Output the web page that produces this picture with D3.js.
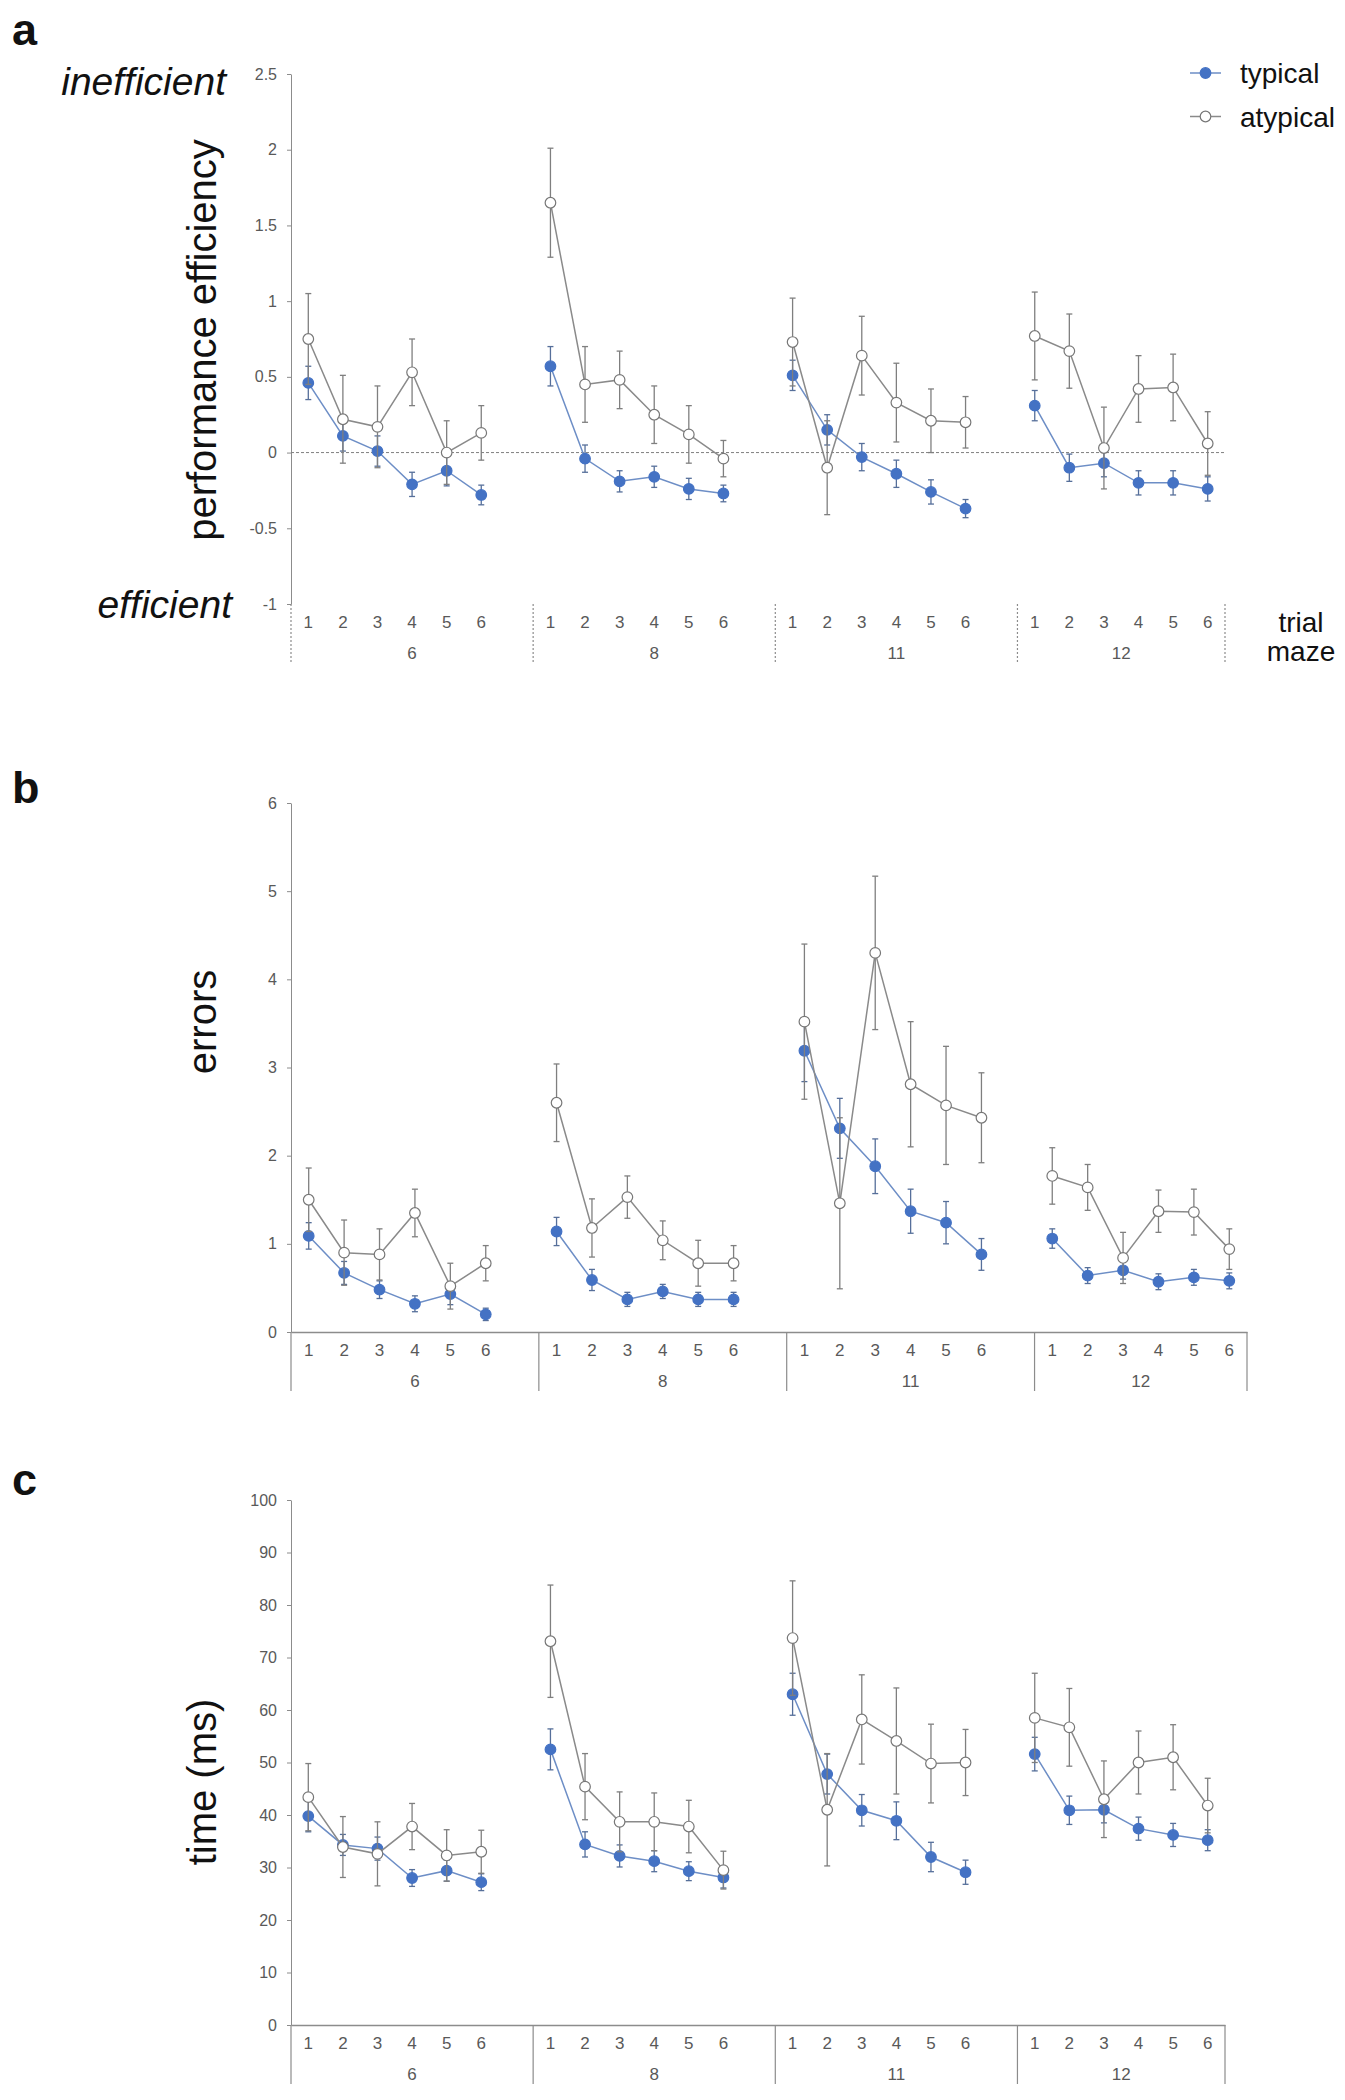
<!DOCTYPE html>
<html>
<head>
<meta charset="utf-8">
<script src="https://cdn.jsdelivr.net/npm/d3@7"></script>
<style>
  body { margin: 0; background: #fff; }
  svg text { font-family: "Liberation Sans", Arial, sans-serif; }
</style>
</head>
<body>
<div class="chart"></div>
<script>

/* DATA */

const mazes = ["6", "8", "11", "12"];
const trials = [1, 2, 3, 4, 5, 6];
const seriesNames = ["typical", "atypical"];

// a: performance efficiency (mean, error), maze by maze
const effTypical = [0.46, 0.11, 0.01, -0.21, -0.12, -0.28,
                    0.57, -0.04, -0.19, -0.16, -0.24, -0.27,
                    0.51, 0.15, -0.03, -0.14, -0.26, -0.37,
                    0.31, -0.10, -0.07, -0.20, -0.20, -0.24];
const effTypicalErr = [0.11, 0.10, 0.10, 0.08, 0.10, 0.065,
                       0.13, 0.09, 0.07, 0.07, 0.07, 0.055,
                       0.10, 0.10, 0.09, 0.09, 0.08, 0.06,
                       0.10, 0.09, 0.09, 0.08, 0.08, 0.08];
const effAtypical = [0.75, 0.22, 0.17, 0.53, 0.00, 0.13,
                     1.65, 0.45, 0.48, 0.25, 0.12, -0.04,
                     0.73, -0.10, 0.64, 0.33, 0.21, 0.20,
                     0.77, 0.67, 0.03, 0.42, 0.43, 0.06];
const effAtypicalErr = [0.30, 0.29, 0.27, 0.22, 0.21, 0.18,
                        0.36, 0.25, 0.19, 0.19, 0.19, 0.12,
                        0.29, 0.31, 0.26, 0.26, 0.21, 0.17,
                        0.29, 0.245, 0.27, 0.22, 0.22, 0.21];

// b: errors
const errTypical = [1.09, 0.67, 0.48, 0.32, 0.43, 0.20,
                    1.14, 0.59, 0.37, 0.46, 0.37, 0.37,
                    3.19, 2.31, 1.88, 1.37, 1.24, 0.88,
                    1.06, 0.64, 0.70, 0.57, 0.62, 0.58];
const errTypicalErr = [0.15, 0.13, 0.10, 0.09, 0.12, 0.07,
                       0.16, 0.12, 0.08, 0.08, 0.08, 0.08,
                       0.35, 0.34, 0.31, 0.25, 0.24, 0.18,
                       0.11, 0.09, 0.10, 0.09, 0.09, 0.09];
const errAtypical = [1.50, 0.90, 0.88, 1.35, 0.52, 0.78,
                     2.60, 1.18, 1.53, 1.04, 0.78, 0.78,
                     3.52, 1.46, 4.30, 2.81, 2.57, 2.43,
                     1.77, 1.64, 0.84, 1.37, 1.36, 0.94];
const errAtypicalErr = [0.36, 0.37, 0.29, 0.27, 0.26, 0.20,
                        0.44, 0.33, 0.24, 0.22, 0.26, 0.20,
                        0.88, 0.97, 0.87, 0.71, 0.67, 0.51,
                        0.32, 0.26, 0.29, 0.24, 0.26, 0.23];

// c: time (ms)
const timeTypical = [39.8, 34.3, 33.6, 28.0, 29.4, 27.2,
                     52.5, 34.4, 32.2, 31.2, 29.3, 28.1,
                     63.0, 47.8, 40.9, 38.9, 32.0, 29.1,
                     51.6, 40.9, 41.0, 37.4, 36.2, 35.2];
const timeTypicalErr = [3.0, 2.0, 2.2, 1.6, 2.0, 1.6,
                        3.9, 2.4, 2.1, 2.0, 1.8, 2.0,
                        4.0, 3.8, 3.0, 3.6, 2.8, 2.3,
                        3.2, 2.7, 2.5, 2.2, 2.2, 2.0];
const timeAtypical = [43.4, 33.9, 32.6, 37.8, 32.3, 33.0,
                      73.1, 45.4, 38.7, 38.7, 37.8, 29.5,
                      73.7, 41.0, 58.2, 54.1, 49.8, 50.0,
                      58.5, 56.7, 43.0, 50.0, 51.0, 41.8];
const timeAtypicalErr = [6.4, 5.8, 6.1, 4.4, 4.9, 4.1,
                         10.7, 6.3, 5.7, 5.5, 5.0, 3.6,
                         10.9, 10.7, 8.5, 10.1, 7.5, 6.3,
                         8.5, 7.4, 7.3, 6.0, 6.2, 5.2];

// y tick labels
const effTicks = [-1, -0.5, 0, 0.5, 1, 1.5, 2, 2.5];
const errTicks = [0, 1, 2, 3, 4, 5, 6];
const timeTicks = [0, 10, 20, 30, 40, 50, 60, 70, 80, 90, 100];


/* SETUP */

const svg = d3.select(".chart").append("svg")
    .attr("width", 1345)
    .attr("height", 2100);

const blue = "#4472c4";
const blueLine = "#6d8ec6";
const blueBar = "#566f9a";
const grey = "#7f7f7f";
const tickGrey = "#595959";

// category slots: 6 trials per maze and an empty slot between mazes
const slots = [];
mazes.forEach((m, i) => {
    trials.forEach(t => slots.push(m + "-" + t));
    if (i < mazes.length - 1) slots.push(m + "-gap");
});

function makeSeries(values, errs) {
    return values.map((v, i) => ({
        maze: mazes[Math.floor(i / trials.length)],
        trial: trials[i % trials.length],
        v: v,
        e: errs[i]
    }));
}

function drawPanel(p) {
    const g = svg.append("g");

    const xScale = d3.scaleBand()
        .domain(slots)
        .range([p.left, p.right]);

    const yScale = d3.scaleLinear()
        .domain(p.domain)
        .range([p.bottom, p.top]);

    const cx = d => xScale(d.maze + "-" + d.trial) + xScale.bandwidth() / 2;

    // y axis
    const yAxis = g.append("g")
        .attr("transform", `translate(${p.left},0)`)
        .call(d3.axisLeft(yScale)
            .tickValues(p.ticks)
            .tickSize(4)
            .tickSizeOuter(0)
            .tickPadding(10)
            .tickFormat(d => String(d)));
    yAxis.selectAll("path, line").attr("stroke", "#8c8c8c");
    yAxis.selectAll("text")
        .attr("fill", tickGrey)
        .attr("font-size", 16)
        .attr("font-family", "Liberation Sans, Arial, sans-serif");

    // x axis (trial numbers)
    const xAxis = g.append("g")
        .attr("transform", `translate(0,${p.bottom})`)
        .call(d3.axisBottom(xScale)
            .tickSize(0)
            .tickSizeOuter(0)
            .tickPadding(12)
            .tickFormat(k => k.endsWith("gap") ? "" : k.split("-")[1]));
    xAxis.select(".domain").attr("stroke", "#8c8c8c").attr("stroke-width", 1.3);
    if (p.dashed) xAxis.select(".domain").remove();
    xAxis.selectAll("text")
        .attr("fill", tickGrey)
        .attr("font-size", 17)
        .attr("font-family", "Liberation Sans, Arial, sans-serif");

    // dashed zero line
    if (p.dashed) {
        g.append("line")
            .attr("x1", p.left).attr("x2", p.right)
            .attr("y1", yScale(0)).attr("y2", yScale(0))
            .attr("stroke", "#7f7f7f")
            .attr("stroke-width", 1)
            .attr("stroke-dasharray", "3,2");
    }

    // maze separators and labels
    const bounds = mazes.map(m => xScale(m + "-1")).concat([p.right]);
    g.selectAll(".sep").data(bounds).enter().append("line")
        .attr("x1", d => d).attr("x2", d => d)
        .attr("y1", p.bottom).attr("y2", p.bottom + 59)
        .attr("stroke", "#8c8c8c")
        .attr("stroke-width", 1.2)
        .attr("stroke-dasharray", p.dashed ? "2,2" : null);

    g.selectAll(".maze").data(mazes).enter().append("text")
        .attr("x", (d, i) => (bounds[i] + bounds[i + 1]) / 2)
        .attr("y", p.bottom + 55)
        .attr("text-anchor", "middle")
        .attr("font-size", 17)
        .attr("fill", tickGrey)
        .text(d => d);

    // axis title
    g.append("text")
        .attr("transform", `translate(216,${p.titleY}) rotate(-90)`)
        .attr("text-anchor", "middle")
        .attr("font-size", 40)
        .attr("fill", "#111")
        .text(p.title);

    // panel letter
    g.append("text")
        .attr("x", 12)
        .attr("y", p.letterY)
        .attr("font-size", 45)
        .attr("font-weight", "bold")
        .attr("fill", "#111")
        .text(p.letter);

    const line = d3.line().x(cx).y(d => yScale(d.v));

    const series = [
        {data: makeSeries(p.typical, p.typicalErr), line: blueLine, bar: blueBar, fill: blue, stroke: blue},
        {data: makeSeries(p.atypical, p.atypicalErr), line: "#8a8a8a", bar: grey, fill: "#fff", stroke: "#777"}
    ];

    series.forEach(s => {
        // lines, broken between mazes
        mazes.forEach(m => {
            g.append("path")
                .datum(s.data.filter(d => d.maze === m))
                .attr("d", line)
                .attr("fill", "none")
                .attr("stroke", s.line)
                .attr("stroke-width", 1.5);
        });

        // error bars
        const bars = g.selectAll(null).data(s.data).enter().append("g")
            .attr("stroke", s.bar)
            .attr("stroke-width", 1.3);
        bars.append("line")
            .attr("x1", cx).attr("x2", cx)
            .attr("y1", d => yScale(d.v - d.e))
            .attr("y2", d => yScale(d.v + d.e));
        bars.append("line")
            .attr("x1", d => cx(d) - 3).attr("x2", d => cx(d) + 3)
            .attr("y1", d => yScale(d.v + d.e)).attr("y2", d => yScale(d.v + d.e));
        bars.append("line")
            .attr("x1", d => cx(d) - 3).attr("x2", d => cx(d) + 3)
            .attr("y1", d => yScale(d.v - d.e)).attr("y2", d => yScale(d.v - d.e));

        // markers
        g.selectAll(null).data(s.data).enter().append("circle")
            .attr("cx", cx)
            .attr("cy", d => yScale(d.v))
            .attr("r", 5.3)
            .attr("fill", s.fill)
            .attr("stroke", s.stroke)
            .attr("stroke-width", 1.2);
    });
}


/* PANELS */

drawPanel({
    letter: "a", letterY: 45, title: "performance efficiency", titleY: 340,
    left: 291, right: 1225, top: 74, bottom: 604, domain: [-1, 2.5], ticks: effTicks, dashed: true,
    typical: effTypical, typicalErr: effTypicalErr, atypical: effAtypical, atypicalErr: effAtypicalErr
});

drawPanel({
    letter: "b", letterY: 803, title: "errors", titleY: 1022,
    left: 291, right: 1247, top: 803, bottom: 1332, domain: [0, 6], ticks: errTicks, dashed: false,
    typical: errTypical, typicalErr: errTypicalErr, atypical: errAtypical, atypicalErr: errAtypicalErr
});

drawPanel({
    letter: "c", letterY: 1495, title: "time (ms)", titleY: 1782,
    left: 291, right: 1225, top: 1500, bottom: 2025, domain: [0, 100], ticks: timeTicks, dashed: false,
    typical: timeTypical, typicalErr: timeTypicalErr, atypical: timeAtypical, atypicalErr: timeAtypicalErr
});

// efficiency direction labels
svg.append("text")
    .attr("x", 226).attr("y", 95)
    .attr("text-anchor", "end")
    .attr("font-size", 39)
    .attr("font-style", "italic")
    .attr("fill", "#111")
    .text("inefficient");

svg.append("text")
    .attr("x", 232).attr("y", 618)
    .attr("text-anchor", "end")
    .attr("font-size", 39)
    .attr("font-style", "italic")
    .attr("fill", "#111")
    .text("efficient");

// x axis names
svg.append("text")
    .attr("x", 1301).attr("y", 632)
    .attr("text-anchor", "middle")
    .attr("font-size", 28)
    .attr("fill", "#111")
    .text("trial");

svg.append("text")
    .attr("x", 1301).attr("y", 661)
    .attr("text-anchor", "middle")
    .attr("font-size", 28)
    .attr("fill", "#111")
    .text("maze");

// legend
const legend = svg.append("g").selectAll("g")
    .data(seriesNames).enter().append("g")
    .attr("transform", (d, i) => `translate(1190,${73 + i * 43.5})`);

legend.append("line")
    .attr("x1", 0).attr("x2", 31)
    .attr("stroke", (d, i) => i === 0 ? blueLine : "#8a8a8a")
    .attr("stroke-width", 1.5);

legend.append("circle")
    .attr("cx", 15.5)
    .attr("r", 5.3)
    .attr("fill", (d, i) => i === 0 ? blue : "#fff")
    .attr("stroke", (d, i) => i === 0 ? blue : "#777")
    .attr("stroke-width", 1.2);

legend.append("text")
    .attr("x", 50)
    .attr("y", 10)
    .attr("font-size", 28)
    .attr("fill", "#111")
    .text(d => d);

</script>
</body>
</html>
